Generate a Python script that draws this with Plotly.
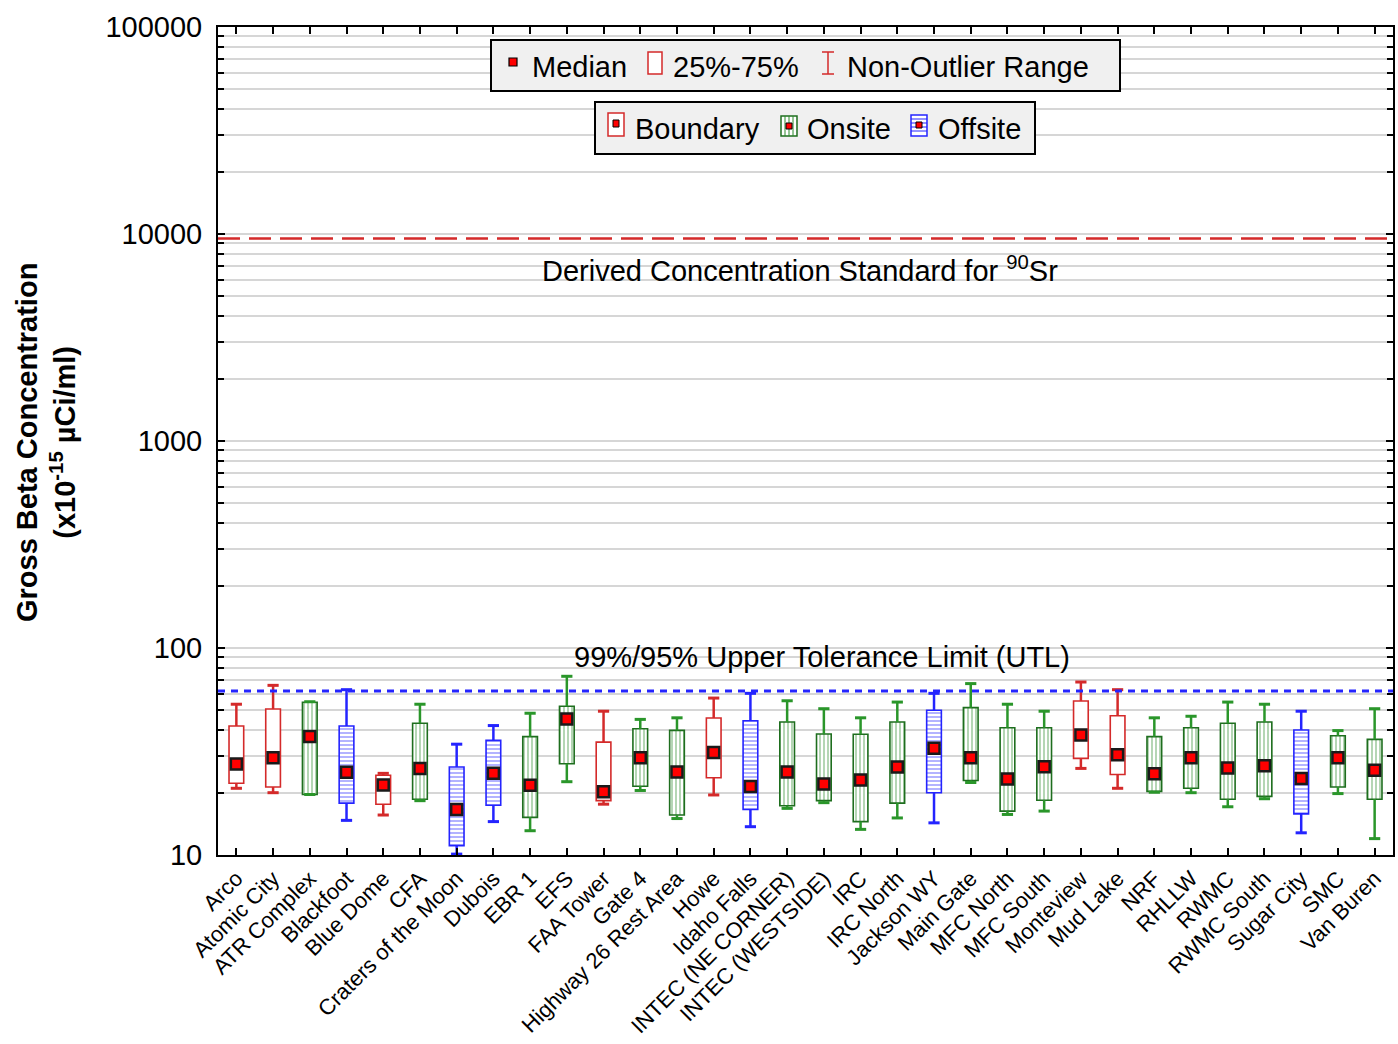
import plotly.graph_objects as go

# ---------------- data ----------------
sites = ["Arco", "Atomic City", "ATR Complex", "Blackfoot", "Blue Dome", "CFA",
         "Craters of the Moon", "Dubois", "EBR 1", "EFS", "FAA Tower", "Gate 4",
         "Highway 26 Rest Area", "Howe", "Idaho Falls", "INTEC (NE CORNER)",
         "INTEC (WESTSIDE)", "IRC", "IRC North", "Jackson WY", "Main Gate",
         "MFC North", "MFC South", "Monteview", "Mud Lake", "NRF", "RHLLW",
         "RWMC", "RWMC South", "Sugar City", "SMC", "Van Buren"]
groups = ["Boundary", "Boundary", "Onsite", "Offsite", "Boundary", "Onsite",
          "Offsite", "Offsite", "Onsite", "Onsite", "Boundary", "Onsite",
          "Onsite", "Boundary", "Offsite", "Onsite", "Onsite", "Onsite",
          "Onsite", "Offsite", "Onsite", "Onsite", "Onsite", "Boundary",
          "Boundary", "Onsite", "Onsite", "Onsite", "Onsite", "Offsite",
          "Onsite", "Onsite"]
upper = [53.5, 66.0, 55.0, 62.9, 24.8, 53.5, 34.3, 42.2, 48.4, 73.0, 49.5, 45.2,
         46.0, 57.3, 60.4, 55.6, 50.9, 46.0, 54.8, 60.4, 67.3, 53.5, 49.5, 68.5,
         62.9, 46.0, 46.8, 54.8, 53.5, 49.5, 39.9, 50.9]
q3 = [42.0, 50.7, 54.7, 42.0, 24.3, 43.3, 26.6, 35.8, 37.3, 52.3, 35.1, 40.7,
      40.0, 45.9, 44.5, 43.9, 38.4, 38.3, 43.9, 50.0, 51.5, 41.2, 41.2, 55.5,
      47.1, 37.3, 41.2, 43.3, 43.9, 40.2, 37.7, 36.2]
median = [27.5, 29.5, 37.4, 25.1, 21.8, 26.2, 16.6, 24.8, 21.7, 45.4, 20.2, 29.5,
          25.2, 31.3, 21.4, 25.2, 22.0, 23.0, 26.6, 32.8, 29.5, 23.3, 26.7, 38.0,
          30.5, 24.7, 29.5, 26.3, 27.0, 23.4, 29.5, 25.7]
q1 = [22.2, 21.3, 19.6, 17.8, 17.6, 18.6, 11.1, 17.4, 15.2, 27.6, 18.3, 21.5,
      15.6, 23.6, 16.6, 17.3, 18.3, 14.5, 17.8, 20.0, 22.9, 16.3, 18.4, 29.3,
      24.5, 20.3, 21.0, 18.6, 19.2, 15.8, 21.3, 18.6]
lower = [21.0, 20.0, 19.6, 14.7, 15.6, 18.3, 10.1, 14.5, 13.1, 22.6, 17.6, 20.5,
         15.0, 19.5, 13.7, 16.8, 17.9, 13.3, 15.1, 14.3, 22.4, 15.7, 16.3, 26.2,
         21.0, 20.1, 20.0, 17.1, 18.7, 12.8, 19.8, 12.0]
dcs_value = 9500
utl_value = 62
y_ticks = [10, 100, 1000, 10000, 100000]

# ---------------- styles ----------------
styles = {
    "Boundary": dict(outline="#d42a2a", whisker="#d42a2a", fg="#d42a2a", shape=""),
    "Onsite": dict(outline="#1e6e1e", whisker="#2a962a", fg="#2a8a2a", shape="|"),
    "Offsite": dict(outline="#2424ff", whisker="#2424ff", fg="#2424ff", shape="-"),
}

fig = go.Figure()
xs = list(range(len(sites)))

for g in ["Boundary", "Onsite", "Offsite"]:
    st = styles[g]
    idx = [i for i in xs if groups[i] == g]
    wx, wy = [], []
    for i in idx:
        wx += [i, i, None, i, i, None]
        wy += [q3[i], upper[i], None, lower[i], q1[i], None]
    fig.add_trace(go.Scatter(x=wx, y=wy, mode="lines",
                             line=dict(color=st["whisker"], width=2.5),
                             showlegend=False, hoverinfo="skip"))
    fig.add_trace(go.Scatter(x=[i for i in idx] * 2,
                             y=[upper[i] for i in idx] + [lower[i] for i in idx],
                             mode="markers",
                             marker=dict(symbol="line-ew", size=8,
                                         line=dict(color=st["whisker"], width=3)),
                             showlegend=False, hoverinfo="skip"))
    pat = dict(shape=st["shape"], fgcolor=st["fg"], bgcolor="white",
               size=4, solidity=0.35) if st["shape"] else dict(shape="")
    fig.add_trace(go.Bar(x=idx, base=[q1[i] for i in idx],
                         y=[q3[i] - q1[i] for i in idx], width=0.4,
                         marker=dict(color="white",
                                     line=dict(color=st["outline"], width=1.6),
                                     pattern=pat),
                         showlegend=False, hoverinfo="skip"))

fig.add_trace(go.Scatter(x=xs, y=median, mode="markers",
                         marker=dict(symbol="square", size=11, color="#ff0000",
                                     line=dict(color="#1a1a1a", width=2.5)),
                         showlegend=False, hoverinfo="skip"))

# ---------------- layout ----------------
L, R, T, B = 218, 1393, 27, 855
W, H = 1398, 1044


def PX(px):
    return (px - L) / (R - L)


def PY(py):
    return (B - py) / (B - T)


minor_vals = [m * 10 ** e for e in range(1, 5) for m in range(2, 10)]

fig.update_layout(
    width=W, height=H,
    margin=dict(l=L, r=W - R, t=T, b=H - B, autoexpand=False),
    plot_bgcolor="white", paper_bgcolor="white",
    barmode="overlay",
    font=dict(family="Liberation Sans, Arial, sans-serif", color="black"),
    xaxis=dict(range=[-0.5, len(sites) - 0.5], tickmode="array", tickvals=xs,
               ticktext=sites, tickangle=-45, ticks="inside", ticklen=7,
               tickwidth=2, tickcolor="black", showline=True, linecolor="black",
               linewidth=2, mirror="allticks", showgrid=False, zeroline=False,
               tickfont=dict(size=22), ticklabelstandoff=0, automargin=False),
    yaxis=dict(type="log", range=[1, 5], tickmode="array", tickvals=y_ticks,
               ticktext=[str(v) for v in y_ticks], ticks="inside", ticklen=7,
               tickwidth=2, tickcolor="black", showline=True, linecolor="black",
               linewidth=2, mirror="allticks", showgrid=True,
               gridcolor="#d6d6d6", gridwidth=2, zeroline=False,
               tickfont=dict(size=29), ticklabelstandoff=8, automargin=False,
               minor=dict(tickmode="array", tickvals=minor_vals, ticks="inside",
                          ticklen=6, tickwidth=2, tickcolor="black",
                          showgrid=True, gridcolor="#d6d6d6", gridwidth=2)),
)

shapes = []
ann = []

shapes.append(dict(type="line", xref="paper", x0=0, x1=1, yref="y",
                   y0=dcs_value, y1=dcs_value,
                   line=dict(color="#d42a2a", width=2.5, dash="22px,9px")))
shapes.append(dict(type="line", xref="paper", x0=0, x1=1, yref="y",
                   y0=utl_value, y1=utl_value,
                   line=dict(color="#2424ff", width=3, dash="7px,6px")))

ann.append(dict(xref="paper", yref="paper", x=PX(800), y=PY(269),
                text="Derived Concentration Standard for <sup>90</sup>Sr",
                showarrow=False, font=dict(size=29), xanchor="center",
                yanchor="middle"))
ann.append(dict(xref="paper", yref="paper", x=PX(822), y=PY(657),
                text="99%/95% Upper Tolerance Limit (UTL)",
                showarrow=False, font=dict(size=29), xanchor="center",
                yanchor="middle"))

ann.append(dict(xref="paper", yref="paper", x=PX(46), y=PY(443),
                text="<b>Gross Beta Concentration</b><br><b>(x10<sup>-15</sup> µCi/ml)</b>",
                textangle=-90, showarrow=False, font=dict(size=29),
                xanchor="center", yanchor="middle"))


def rect(x0, y0, x1, y1, line_color, fill, lw=1.5):
    shapes.append(dict(type="rect", xref="paper", yref="paper",
                       x0=PX(x0), x1=PX(x1), y0=PY(y1), y1=PY(y0),
                       line=dict(color=line_color, width=lw), fillcolor=fill,
                       layer="above"))


def seg(x0, y0, x1, y1, color, lw=1.5):
    shapes.append(dict(type="line", xref="paper", yref="paper",
                       x0=PX(x0), x1=PX(x1), y0=PY(y0), y1=PY(y1),
                       line=dict(color=color, width=lw), layer="above"))


def label(x, y, text):
    ann.append(dict(xref="paper", yref="paper", x=PX(x), y=PY(y), text=text,
                    showarrow=False, font=dict(size=29), xanchor="left",
                    yanchor="middle"))


rect(491, 40, 1120, 91, "black", "#f0f0f0", 2)
rect(509, 58, 517, 66, "black", "#ff0000", 1.2)
label(530, 67, "Median")
rect(648, 52, 662, 74, "#d42a2a", "white", 1.5)
label(671, 67, "25%-75%")
seg(828, 52, 828, 74, "#d42a2a")
seg(822, 52, 834, 52, "#d42a2a")
seg(822, 74, 834, 74, "#d42a2a")
label(845, 67, "Non-Outlier Range")

rect(595, 102, 1035, 154, "black", "#f0f0f0", 2)
rect(608, 113, 624, 136, "#d42a2a", "white", 1.5)
rect(613, 120, 619, 127, "black", "#ff0000", 1)
label(633, 129, "Boundary")
rect(781, 116, 797, 136, "#1e6e1e", "white", 1.5)
for xx in (785, 789, 793):
    seg(xx, 116, xx, 136, "#2a8a2a", 1)
rect(786, 123, 792, 129, "black", "#ff0000", 1)
label(805, 129, "Onsite")
rect(911, 115, 927, 136, "#2424ff", "white", 1.5)
for yy in (119, 123, 127, 131):
    seg(911, yy, 927, yy, "#2424ff", 1)
rect(916, 122, 922, 128, "black", "#ff0000", 1)
label(936, 129, "Offsite")

fig.update_layout(shapes=shapes, annotations=ann)

fig.write_html("out.html")
